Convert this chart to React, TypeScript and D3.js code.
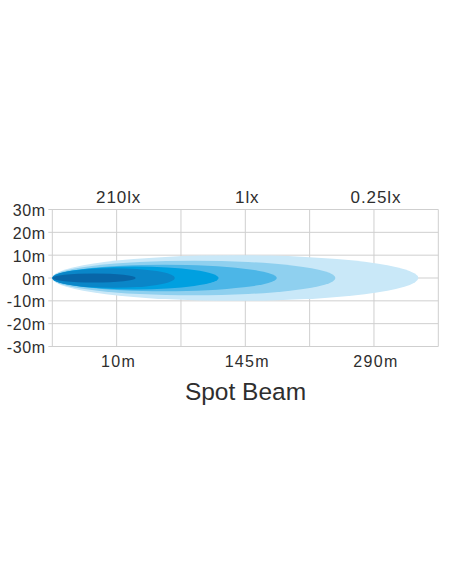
import React from 'react';
import * as d3 from 'd3';

// axis labels
const distanceLabels = ['10m', '145m', '290m'];
const labelDistances = [10, 145, 290];
const luxLabels = ['210lx', '1lx', '0.25lx'];
const yTicks = [30, 20, 10, 0, -10, -20, -30];

// beam layers, outer to inner: reach (m) and half width (m)
const beamReach = [340, 246.5, 180.5, 117, 71, 30];
const beamHalfWidth = [10, 7.6, 5.8, 5, 4.3, 2];
const beamColors = ['#c9e8f8', '#8fd0ef', '#4cb6e7', '#00a0e0', '#0a86c8', '#0866a8'];

const W = 452;
const H = 584;

const App = () => {
  const left = 52.3;
  const right = 438.3;
  const top = 209.5;
  const bottom = 346.5;

  // grid columns, and distance mapped onto them (10m, 145m, 290m sit on lines 1, 3, 5)
  const col = d3.scaleLinear().domain([0, 6]).range([left, right]);
  const x = d3
    .scaleLinear()
    .domain([0, 10, 145, 290])
    .range([0, 1, 3, 5].map((c) => col(c)));
  const y = d3.scaleLinear().domain([-30, 30]).range([bottom, top]);

  const font = '"Liberation Sans", Arial, Helvetica, sans-serif';
  const textColor = '#2e2e2e';
  const gridColor = '#cfcfcf';

  return (
    <svg
      width={W}
      height={H}
      viewBox={`0 0 ${W} ${H}`}
      style={{ position: 'absolute', left: 0, top: 0, background: '#fff' }}
    >
      {/* horizontal grid with small ticks on the left */}
      {yTicks.map((v) => (
        <line key={'h' + v} x1={left - 4} x2={right} y1={y(v)} y2={y(v)} stroke={gridColor} strokeWidth={1} />
      ))}
      {d3.range(7).map((c) => (
        <line key={'v' + c} x1={col(c)} x2={col(c)} y1={top} y2={bottom} stroke={gridColor} strokeWidth={1} />
      ))}

      {/* beams */}
      {beamReach.map((r, i) => {
        const x0 = x(0);
        const x1 = x(r);
        return (
          <ellipse
            key={'b' + i}
            cx={(x0 + x1) / 2}
            cy={y(0)}
            rx={(x1 - x0) / 2}
            ry={y(0) - y(beamHalfWidth[i])}
            fill={beamColors[i]}
          />
        );
      })}

      {/* y labels */}
      {yTicks.map((v) => (
        <text
          key={'yl' + v}
          x={45.6}
          y={y(v) + 6.5}
          textAnchor="end"
          fontFamily={font}
          fontSize={16}
          letterSpacing={0.6}
          fill={textColor}
        >
          {v + 'm'}
        </text>
      ))}

      {/* lux labels on top */}
      {luxLabels.map((t, i) => (
        <text
          key={'lx' + i}
          x={x(labelDistances[i]) + 2}
          y={203}
          textAnchor="middle"
          fontFamily={font}
          fontSize={17}
          letterSpacing={0.9}
          fill={textColor}
        >
          {t}
        </text>
      ))}

      {/* distance labels */}
      {distanceLabels.map((t, i) => (
        <text
          key={'d' + i}
          x={x(labelDistances[i]) + 2}
          y={366.7}
          textAnchor="middle"
          fontFamily={font}
          fontSize={16}
          letterSpacing={1.3}
          fill={textColor}
        >
          {t}
        </text>
      ))}

      <text x={245.5} y={400} textAnchor="middle" fontFamily={font} fontSize={24.5} fill={textColor}>
        Spot Beam
      </text>
    </svg>
  );
};

export default App;
